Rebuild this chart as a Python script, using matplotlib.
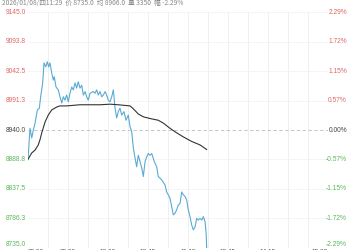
import matplotlib
matplotlib.use('Agg')
import matplotlib.pyplot as plt

plt.rcParams['font.family'] = ['Noto Sans CJK SC', 'DejaVu Sans']

header = '2026/01/08/四11:29  价 8735.0  均 8906.0  量 3350  幅 -2.29%'

prev_close = 8940.0
levels = [9145.0, 9093.8, 9042.5, 8991.3, 8940.0, 8888.8, 8837.5, 8786.3, 8735.0]
level_labels = ['9145.0', '9093.8', '9042.5', '8991.3', '8940.0',
                '8888.8', '8837.5', '8786.3', '8735.0']
pct_labels = ['2.29%', '1.72%', '1.15%', '0.57%', '0.00%',
              '-0.57%', '-1.15%', '-1.72%', '-2.29%']

# trading minutes since 09:00 (breaks removed), 225 minutes in the day session
total_minutes = 225
time_ticks = [0, 30, 60, 90, 120, 150, 180, 225]
time_labels = ['09:00', '09:30', '10:00', '10:45', '11:15', '13:45', '14:15', '15:00']

price_t = [0, 1.5, 2.8, 4, 5.3, 7, 8.5, 9.5, 11, 12, 13.3, 14.5, 15.5, 16.5, 17.8,
           19, 19.7, 21, 22.7, 24, 25.3, 26.5, 27.7, 29, 30.2, 31.5, 32.8, 34, 35.3,
           36.5, 37.7, 39, 40.3, 41.5, 42.8, 44, 45.2, 46.5, 49, 50.3, 51.5, 52.7,
           54, 55.3, 56.5, 57.8, 59, 60.2, 61.5, 62.8, 64, 65.3, 66.5, 67.7, 69,
           70.3, 72, 73.5, 75.2, 76.5, 77.8, 79, 80.3, 81.5, 82.7, 84, 85.3, 86.5,
           87.8, 89, 90.2, 91.5, 92.8, 94.7, 96.5, 97.7, 100.3, 102.8, 104, 105.2,
           106.5, 107.8, 109, 110.3, 111.5, 112.7, 114, 115.3, 116.5, 117.8, 119,
           120.2, 121.5, 122.8, 124, 125.3, 126.5, 127.7, 129, 130.3, 131.5, 132.8,
           133.6, 134]
price = [8888, 8943, 8926, 8940, 8952, 8975, 8978, 8998, 9022, 9057, 9050, 9059,
         9050, 9057, 9039, 9027, 9033, 9015, 9010, 8998, 8987, 8998, 8992, 9001,
         8989, 9004, 9015, 9010, 9022, 9013, 9024, 9013, 9018, 9001, 9007, 8998,
         8992, 9004, 9007, 9004, 9010, 9001, 9007, 8998, 9001, 9007, 9001, 8992,
         8989, 8998, 9010, 8978, 8961, 8972, 8978, 8966, 8972, 8957, 8966, 8946,
         8937, 8909, 8891, 8876, 8896, 8885, 8874, 8859, 8885, 8893, 8899, 8896,
         8899, 8885, 8876, 8859, 8853, 8844, 8832, 8827, 8821, 8806, 8792, 8795,
         8801, 8809, 8812, 8832, 8827, 8824, 8818, 8801, 8789, 8774, 8766, 8771,
         8786, 8783, 8786, 8783, 8789, 8780, 8760, 8735]

avg_t = [0, 2.8, 5.3, 7.7, 9, 10.3, 12.8, 15.2, 17.8, 21.5, 24, 29, 39, 54, 61.5,
         67.7, 76.5, 79, 82.7, 86.5, 91.5, 97.7, 101.5, 106.5, 111.5, 116.5,
         122.8, 129, 134]
avg = [8889, 8900, 8905, 8914, 8923, 8935, 8954, 8966, 8975, 8980, 8982, 8982,
       8984, 8984, 8985, 8984, 8982, 8977, 8968, 8963, 8960, 8957, 8952, 8943,
       8935, 8928, 8920, 8914, 8906]

red = '#e06666'
green = '#5cb85c'
grey = '#444444'
num_font = 'Liberation Sans'

fig = plt.figure(figsize=(3.5, 2.5), dpi=100)
ax = fig.add_axes([28 / 350, 2.4 / 250, 300 / 350, 235.2 / 250])
ax.set_xlim(0, total_minutes)
ax.set_ylim(levels[-1], levels[0])
for s in ax.spines.values():
    s.set_visible(False)
ax.set_xticks([])
ax.set_yticks([])

for m in range(15, total_minutes, 15):
    ax.axvline(m, color='#ececec', lw=0.6, zorder=0)
for lv in levels:
    if lv != prev_close:
        ax.axhline(lv, color='#f3f3f3', lw=0.6, zorder=0)
ax.axhline(prev_close, color='#bbbbbb', lw=0.6, ls=(0, (4, 3)), zorder=1)

ax.plot(price_t, price, color='#5aaad4', lw=0.8, zorder=3)
ax.plot(avg_t, avg, color='#333333', lw=0.8, zorder=4)

ytr = ax.get_yaxis_transform()
for i, (lv, lab, pl) in enumerate(zip(levels, level_labels, pct_labels)):
    if lv > prev_close:
        c = red
    elif lv < prev_close:
        c = green
    else:
        c = grey
    va = 'bottom' if i == len(levels) - 1 else 'center'
    ax.text(-0.006, lv, lab, transform=ytr, ha='right', va=va, fontsize=4.8,
            color=c, family=num_font)
    ax.text(1.063, lv, pl, transform=ytr, ha='right', va=va, fontsize=4.8,
            color=c, family=num_font)

xtr = ax.get_xaxis_transform()
for i, (t, lab) in enumerate(zip(time_ticks, time_labels)):
    ha = 'left' if i == 0 else ('right' if i == len(time_ticks) - 1 else 'center')
    ax.text(t, -0.006, lab, transform=xtr, ha=ha, va='top', fontsize=4.6,
            color='#444444', family=num_font)

fig.text(2 / 350, 1 - 3 / 250, header, ha='left', va='center', fontsize=4.8,
         color='#888888')

fig.savefig('out.png', dpi=100)
